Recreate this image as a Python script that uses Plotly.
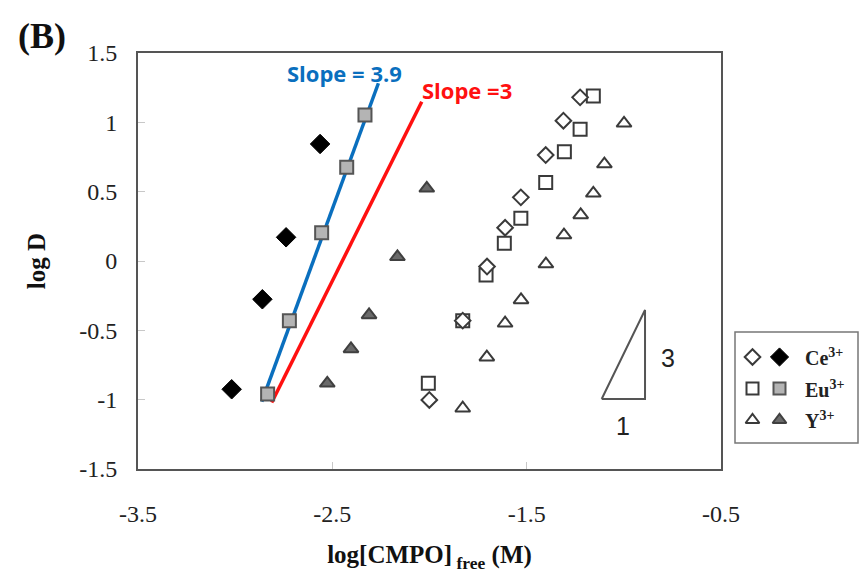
import plotly.graph_objects as go

# ---------------- data ----------------
ce_open_x = [-1.225, -1.311, -1.402, -1.530, -1.611, -1.704, -1.829, -2.001]
ce_open_y = [1.180, 1.012, 0.764, 0.459, 0.240, -0.040, -0.430, -1.002]
ce_fill_x = [-2.563, -2.738, -2.860, -3.018]
ce_fill_y = [0.844, 0.171, -0.276, -0.925]

eu_open_x = [-1.157, -1.225, -1.306, -1.402, -1.530, -1.615, -1.709, -1.829, -2.006]
eu_open_y = [1.190, 0.950, 0.788, 0.567, 0.308, 0.128, -0.101, -0.430, -0.882]
eu_fill_x = [-2.332, -2.426, -2.555, -2.721, -2.833]
eu_fill_y = [1.053, 0.676, 0.204, -0.430, -0.959]

y_open_x = [-0.999, -1.100, -1.157, -1.222, -1.308, -1.401, -1.529, -1.611, -1.705, -1.829]
y_open_y = [0.993, 0.699, 0.488, 0.332, 0.187, -0.022, -0.281, -0.449, -0.694, -1.062]
y_fill_x = [-2.014, -2.165, -2.311, -2.404, -2.526]
y_fill_y = [0.524, 0.030, -0.389, -0.634, -0.882]

fit39_x = [-2.863, -2.263]
fit39_y = [-1.014, 1.282]
fit3_x = [-2.812, -2.040]
fit3_y = [-1.021, 1.149]

slope_tri_x = [-1.114, -0.891, -0.891, -1.114]
slope_tri_y = [-0.995, -0.995, -0.353, -0.995]

x_ticks = [-3.5, -2.5, -1.5, -0.5]
x_tick_labels = ["-3.5", "-2.5", "-1.5", "-0.5"]
y_ticks = [-1.5, -1.0, -0.5, 0.0, 0.5, 1.0, 1.5]
y_tick_labels = ["-1.5", "-1", "-0.5", "0", "0.5", "1", "1.5"]

legend_labels = ["Ce<sup>3+</sup>", "Eu<sup>3+</sup>", "Y<sup>3+</sup>"]

# ---------------- styling ----------------
SERIF = "Liberation Serif"
EDGE = "#3a3a3a"
W, H = 860, 576
ML, MR, MT, MB = 138, 0, 53, 107
PW = W - ML - MR
PH = H - MT - MB
plot_right = 721


def px2paper_x(px):
    return (px - ML) / PW


def px2paper_y(py):
    return (H - MB - py) / PH


fig = go.Figure()

mk_open = dict(color="white", line=dict(color=EDGE, width=2))

fig.add_trace(go.Scatter(x=fit39_x, y=fit39_y, mode="lines",
                         line=dict(color="#0a6fbe", width=3.5), showlegend=False))
fig.add_trace(go.Scatter(x=fit3_x, y=fit3_y, mode="lines",
                         line=dict(color="#ff1010", width=3.5), showlegend=False))

fig.add_trace(go.Scatter(x=ce_fill_x, y=ce_fill_y, mode="markers", showlegend=False,
                         marker=dict(symbol="diamond", size=15, color="black",
                                     line=dict(color="black", width=1))))
fig.add_trace(go.Scatter(x=eu_fill_x, y=eu_fill_y, mode="markers", showlegend=False,
                         marker=dict(symbol="square", size=13, color="#b4b4b4",
                                     line=dict(color="#555555", width=2))))
fig.add_trace(go.Scatter(x=y_fill_x, y=y_fill_y, mode="markers", showlegend=False,
                         marker=dict(symbol="triangle-up", size=13, color="#6a6a6a",
                                     line=dict(color="#404040", width=2))))
fig.add_trace(go.Scatter(x=eu_open_x, y=eu_open_y, mode="markers", showlegend=False,
                         marker=dict(symbol="square", size=13, **mk_open)))
fig.add_trace(go.Scatter(x=ce_open_x, y=ce_open_y, mode="markers", showlegend=False,
                         marker=dict(symbol="diamond", size=12, **mk_open)))
fig.add_trace(go.Scatter(x=y_open_x, y=y_open_y, mode="markers", showlegend=False,
                         marker=dict(symbol="triangle-up", size=13, **mk_open)))

# slope triangle (1 : 3)
fig.add_trace(go.Scatter(x=slope_tri_x, y=slope_tri_y, mode="lines", showlegend=False,
                         line=dict(color="#555555", width=2)))

# ---------------- custom legend (axes x2/y2 mapped 1:1 to paper) ----------------
lx0, lx1 = px2paper_x(735), px2paper_x(858)
ly0, ly1 = px2paper_y(443), px2paper_y(332)
row_py = [357, 388.5, 420]
open_px, fill_px, text_px = 752.5, 779.5, 803
leg_open_sym = ["diamond", "square", "triangle-up"]
leg_fill = [dict(symbol="diamond", size=14, color="black", line=dict(color="black", width=1)),
            dict(symbol="square", size=12, color="#b4b4b4", line=dict(color="#555555", width=2)),
            dict(symbol="triangle-up", size=12, color="#6a6a6a", line=dict(color="#404040", width=2))]
for i, py in enumerate(row_py):
    yy = px2paper_y(py)
    fig.add_trace(go.Scatter(x=[px2paper_x(open_px)], y=[yy], mode="markers", showlegend=False,
                             xaxis="x2", yaxis="y2",
                             marker=dict(symbol=leg_open_sym[i], size=12, **mk_open)))
    fig.add_trace(go.Scatter(x=[px2paper_x(fill_px)], y=[yy], mode="markers", showlegend=False,
                             xaxis="x2", yaxis="y2", marker=leg_fill[i]))
    fig.add_annotation(x=px2paper_x(text_px), y=yy, xref="paper", yref="paper",
                       text=legend_labels[i], showarrow=False, xanchor="left", yanchor="middle",
                       font=dict(family=SERIF, size=20, color="#222", weight="bold"))

fig.add_shape(type="rect", xref="paper", yref="paper", x0=lx0, x1=lx1, y0=ly0, y1=ly1,
              line=dict(color="#777777", width=1.5), fillcolor="rgba(0,0,0,0)")


def label(px, py, text, font):
    fig.add_annotation(x=px2paper_x(px), y=px2paper_y(py), xref="paper", yref="paper",
                       text=text, showarrow=False, xanchor="center", yanchor="middle",
                       font=font)


label(344, 73, "Slope = 3.9", dict(family="Open Sans", size=22, color="#0a6fbe", weight="bold"))
label(467, 90, "Slope =3", dict(family="Open Sans", size=22, color="#ff1010", weight="bold"))
label(668, 358, "3", dict(family="Liberation Sans", size=25, color="#222"))
label(623, 426, "1", dict(family="Liberation Sans", size=25, color="#222"))
label(42, 36, "(B)", dict(family=SERIF, size=36, color="#111", weight="bold"))

axis_common = dict(showgrid=False, zeroline=False, showline=True, mirror=True,
                   linecolor="#555555", linewidth=2, ticks="inside", ticklen=7,
                   tickcolor="#c8c8c8", tickwidth=1, automargin=False,
                   tickfont=dict(family=SERIF, size=24, color="#222"))

fig.update_layout(
    width=W, height=H, autosize=False,
    margin=dict(l=ML, r=MR, t=MT, b=MB, autoexpand=False),
    paper_bgcolor="white", plot_bgcolor="white",
    xaxis=dict(range=[-3.5, -0.5], domain=[0, px2paper_x(plot_right)],
               tickvals=x_ticks, ticktext=x_tick_labels, ticklabelstandoff=22,
               title=dict(text="log[CMPO]<sub> free</sub> (M)", standoff=20,
                          font=dict(family=SERIF, size=25, color="#111", weight="bold")),
               **axis_common),
    yaxis=dict(range=[-1.5, 1.5], domain=[0, 1],
               tickvals=y_ticks, ticktext=y_tick_labels, ticklabelstandoff=14,
               title=dict(text="log D", standoff=26,
                          font=dict(family=SERIF, size=25, color="#111", weight="bold")),
               **axis_common),
    xaxis2=dict(domain=[lx0, lx1], range=[lx0, lx1], visible=False, anchor="y2",
                automargin=False),
    yaxis2=dict(domain=[ly0, ly1], range=[ly0, ly1], visible=False, anchor="x2",
                automargin=False),
    showlegend=False,
)

post = ("document.body.style.margin='0px';"
        "document.body.style.overflow='hidden';")

fig.write_html("out.html",
               config={"displayModeBar": False, "responsive": False},
               post_script=post)
